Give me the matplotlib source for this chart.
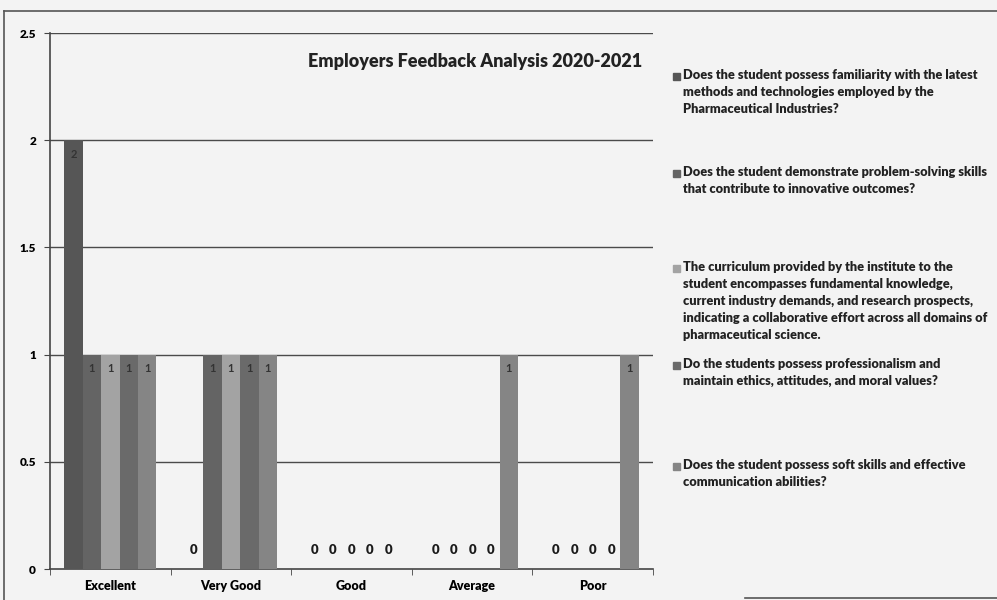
import matplotlib
matplotlib.use('Agg')
import matplotlib.pyplot as plt
from matplotlib.lines import Line2D
import numpy as np

plt.rcParams['font.family'] = ['Lato', 'DejaVu Sans']

categories = ['Excellent', 'Very Good', 'Good', 'Average', 'Poor']
questions = [
    'Does the student possess familiarity with the latest\nmethods and technologies employed by the\nPharmaceutical Industries?',
    'Does the student demonstrate problem-solving skills\nthat contribute to innovative outcomes?',
    'The curriculum provided by the institute to the\nstudent encompasses fundamental knowledge,\ncurrent industry demands, and research prospects,\nindicating a collaborative effort across all domains of\npharmaceutical science.',
    'Do the students possess professionalism and\nmaintain ethics, attitudes, and moral values?',
    'Does the student possess soft skills and effective\ncommunication abilities?',
]
q1 = [2, 0, 0, 0, 0]
q2 = [1, 1, 0, 0, 0]
q3 = [1, 1, 0, 0, 0]
q4 = [1, 1, 0, 0, 0]
q5 = [1, 1, 0, 1, 1]
series = [q1, q2, q3, q4, q5]
colors = ['#565656', '#646464', '#a3a3a3', '#6a6a6a', '#858585']

bg = '#f3f3f3'
fig = plt.figure(figsize=(9.97, 6.0), dpi=100, facecolor=bg)
ax = fig.add_axes([50/997, 1 - 569/600, 603/997, 536/600])
ax.set_facecolor(bg)

x = np.arange(len(categories))
w = 0.153
for i, vals in enumerate(series):
    pos = x + (i - 2) * w
    ax.bar(pos, vals, w, color=colors[i], zorder=3)
    for p, v in zip(pos, vals):
        if v > 0:
            ax.text(p, v - 0.04, str(v), ha='center', va='top', fontsize=8,
                    fontweight='bold', color='#333333', zorder=4)
        else:
            ax.text(p, 0.06, '0', ha='center', va='bottom', fontsize=9.5,
                    fontweight='heavy', color='#1a1a1a', zorder=4)

ax.set_xlim(-0.5, 4.5)
ax.set_ylim(0, 2.5)
ax.set_yticks([0, 0.5, 1, 1.5, 2, 2.5])
ax.set_yticklabels(['0', '0.5', '1', '1.5', '2', '2.5'], fontsize=8.5, fontweight='heavy')
ax.set_xticks(x)
ax.set_xticklabels(categories, fontsize=9, fontweight='heavy')
ax.set_xticks(np.arange(-0.5, 5, 1), minor=True)
ax.tick_params(axis='x', which='major', length=0, pad=8)
ax.tick_params(axis='x', which='minor', length=4, color='#444444')
ax.tick_params(axis='y', length=4, color='#444444', pad=6)

for s in ['top', 'right']:
    ax.spines[s].set_visible(False)
for s in ['left', 'bottom']:
    ax.spines[s].set_color('#444444')
    ax.spines[s].set_linewidth(1.2)

for y in [0.5, 1, 1.5, 2, 2.5]:
    ax.axhline(y, color='#4a4a4a', lw=1, zorder=1)

fig.text(475/997, 1 - 62/600, 'Employers Feedback Analysis 2020-2021',
         ha='center', va='center', fontsize=13, fontweight='heavy', color='#222222')

# legend
tops = [69, 166, 261, 358, 459]
for q, c, t in zip(questions, colors, tops):
    fig.text(683/997, 1 - t/600, q, ha='left', va='top', fontsize=9.2,
             fontweight='heavy', color='#222222', linespacing=1.5)
    fig.patches.append(plt.Rectangle((673/997, 1 - (t + 11)/600), 7/997, 7/600,
                                     transform=fig.transFigure, color=c))

# outer frame of the chart
fig.add_artist(Line2D([4/997, 4/997], [0, 1 - 11/600], color='#555555', lw=1.2))
fig.add_artist(Line2D([4/997, 1], [1 - 11/600, 1 - 11/600], color='#555555', lw=1.2))
fig.add_artist(Line2D([745/997, 1], [2/600, 2/600], color='#555555', lw=1.2))

fig.savefig('out.png', dpi=100, facecolor=bg)
